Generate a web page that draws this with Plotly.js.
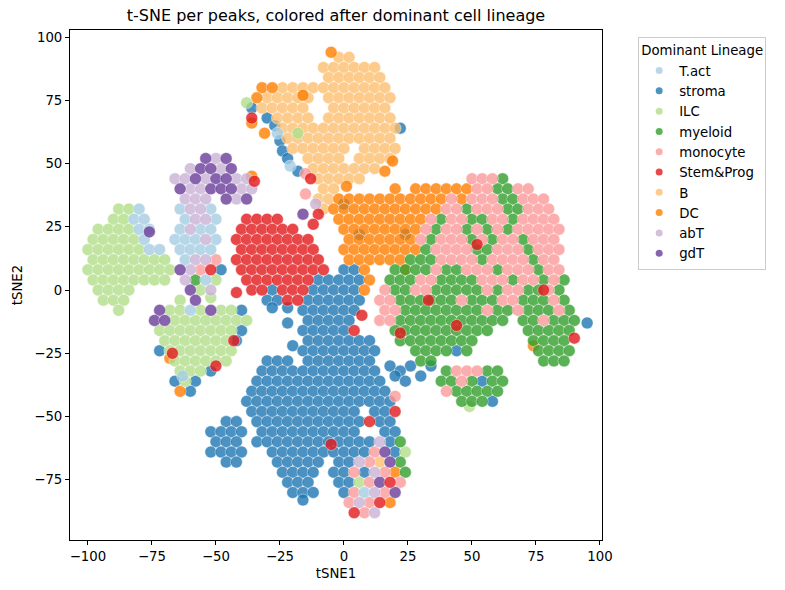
<!DOCTYPE html>
<html>
<head>
<meta charset="utf-8">
<script src="https://cdn.plot.ly/plotly-3.0.1.min.js"></script>
<style>
  html, body { margin: 0; padding: 0; background: #fff; }
  #chart { width: 785px; height: 590px; }
</style>
</head>
<body>
<div id="chart"></div>
<script>
// lineages in legend order, with the seaborn "Paired" colours
const lineages = ['T.act', 'stroma', 'ILC', 'myeloid', 'monocyte', 'Stem&Prog', 'B', 'DC', 'abT', 'gdT'];
const colors = ['#a6cee3', '#1f78b4', '#b2df8a', '#33a02c', '#fb9a99', '#e31a1c', '#fdbf6f', '#ff7f00', '#cab2d6', '#6a3d9a'];

// points, grouped per row: [tSNE2, [tSNE1 values]]
const tactRows = [
  [62, [-26]], [49, [-21]],
  [32, [-80, -64, -52]],
  [28, [-82, -78, -62, -50]],
  [24, [-80, -76, -64, -56, -52]],
  [20, [-78, -66, -62, -58, -50]],
  [16, [-76, -72, -64, -60, -56, -52]],
  [12, [-62]],
  [4, [-54]],
  [-8, [-60]],
  [-34, [-63]],
  [-80, [8]]
];

const stromaRows = [
  [72, [-36]], [68, [-30]], [65, [-27]], [64, [22]], [59, [-25]], [55, [-24]], [52, [-22]], [47, [-18]],
  [34, [0]], [22, [6, 24]],
  [8, [-48, 0, 4]],
  [4, [-10, -6, -2, 2, 6]],
  [0, [-28, -12, -8, -4, 0, 4]],
  [-4, [-30, -26, -14, -10, -6, -2, 2, 6]],
  [-7, [-28, -22]],
  [-8, [-40, -16, -12, -8, -4, 0, 4]],
  [-12, [-14, -10, -6, -2, 2]],
  [-13, [-22, 95]],
  [-16, [-40, -16, -12, -8, -4, 0]],
  [-20, [-42, -14, -10, -6, -2, 2, 6, 10]],
  [-22, [-20]],
  [-24, [-72, -16, -12, -8, -4, 0, 4, 8, 12, 44]],
  [-28, [-30, -26, -22, -14, -10, -6, -2, 2, 6, 10]],
  [-30, [18, 26, 34]],
  [-32, [-52, -32, -28, -24, -20, -16, -12, -8, -4, 0, 4, 8, 12, 22]],
  [-34, [20, 30]],
  [-36, [-66, -58, -34, -30, -26, -22, -18, -14, -10, -6, -2, 2, 6, 10, 14, 24, 54]],
  [-40, [-60, -36, -32, -28, -24, -20, -16, -12, -8, -4, 0, 4, 8, 12, 16]],
  [-44, [-38, -34, -30, -26, -22, -18, -14, -10, -6, -2, 2, 6, 10, 14, 18, 58]],
  [-48, [-36, -32, -28, -24, -20, -16, -12, -8, -4, 0, 4, 12, 16]],
  [-52, [-46, -42, -34, -30, -26, -22, -18, -14, -10, -6, -2, 2, 6, 14, 18]],
  [-56, [-52, -48, -44, -40, -32, -28, -24, -20, -16, -12, -8, -4, 0, 4, 16, 20]],
  [-60, [-50, -46, -42, -34, -30, -26, -22, -18, -14, -10, -6, -2, 2, 6, 10, 18]],
  [-64, [-52, -48, -44, -40, -28, -24, -20, -16, -12, -8, -4, 0, 4, 8, 20]],
  [-68, [-46, -42, -26, -22, -18, -14, -10, -2, 2]],
  [-72, [-24, -20, -16, -12, -4, 0, 8]],
  [-76, [-22, -18, -14, -2, 2]],
  [-80, [-20, -16, -12, 0]],
  [-83, [-16]]
];

const ilcRows = [
  [74, [-38]], [62, [-18]],
  [32, [-88, -84]],
  [28, [-90, -86]],
  [24, [-96, -92, -88, -84]],
  [20, [-98, -94, -90, -86, -82]],
  [16, [-100, -96, -92, -88, -84, -80]],
  [12, [-98, -94, -90, -86, -82, -78, -74, -70]],
  [8, [-100, -96, -92, -88, -84, -80, -76, -72, -68]],
  [4, [-98, -94, -90, -86, -82, -78, -74, -70, -50]],
  [0, [-96, -92, -88, -84, -56]],
  [-3, [-52]],
  [-4, [-94, -90, -86, -64]],
  [-8, [-88, -68, -64, -56, -48, -44]],
  [-12, [-66, -62, -58, -54, -50, -46, -42, -38]],
  [-16, [-72, -68, -64, -60, -56, -52, -48, -44]],
  [-20, [-70, -66, -62, -58, -54, -50, -46]],
  [-24, [-68, -64, -60, -56, -52, -48, -44]],
  [-28, [-66, -62, -58, -54, -50, -46]],
  [-32, [-64, -60, -56]],
  [-36, [-62]],
  [-46, [49]],
  [-64, [24]],
  [-76, [6]]
];

const myeloidRows = [
  [44, [62]],
  [40, [60, 64]],
  [36, [62, 66]],
  [32, [48, 64, 68]],
  [28, [38, 50, 54, 66]],
  [24, [36, 48, 56, 64]],
  [20, [34, 50, 58, 70]],
  [16, [32, 52, 56, 72]],
  [12, [26, 30, 34, 54, 74]],
  [8, [20, 24, 28, 32, 40, 44, 60, 76]],
  [4, [-58, 18, 22, 26, 38, 42, 46, 50, 66, 78, 86]],
  [0, [20, 24, 36, 40, 44, 48, 52, 60, 72, 76, 84]],
  [-4, [22, 26, 30, 34, 38, 42, 50, 54, 58, 70, 74, 78, 86]],
  [-8, [24, 28, 32, 36, 40, 44, 48, 52, 60, 64, 72, 76, 80, 88]],
  [-12, [22, 26, 30, 34, 38, 42, 46, 50, 54, 58, 62, 70, 74, 82, 86, 90]],
  [-16, [20, 24, 28, 32, 36, 40, 44, 48, 52, 56, 72, 76, 80, 84, 88]],
  [-20, [22, 26, 30, 34, 38, 42, 46, 50, 74, 78, 82, 86]],
  [-24, [28, 32, 36, 40, 48, 76, 80, 84, 88]],
  [-28, [30, 34, 78, 82, 86]],
  [-32, [40, 56, 60]],
  [-36, [38, 42, 50, 58, 62]],
  [-40, [44, 48, 52, 56, 60]],
  [-44, [46, 50, 54]],
  [-60, [22]],
  [-68, [22]],
  [-72, [24]]
];

const monocyteRows = [
  [46, [-15]],
  [44, [50, 54, 58]],
  [40, [52, 56, 68, 72]],
  [38, [-15]],
  [36, [42, 50, 54, 58, 70, 74, 78]],
  [32, [40, 44, 52, 56, 60, 72, 76, 80]],
  [28, [34, 42, 46, 58, 62, 70, 74, 78, 82]],
  [24, [32, 40, 44, 52, 60, 68, 72, 76, 80, 84]],
  [20, [30, 38, 42, 46, 54, 62, 66, 74, 78, 82]],
  [16, [36, 40, 44, 48, 60, 64, 68, 76, 80, 84]],
  [12, [-50, 38, 42, 46, 50, 58, 62, 66, 70, 78, 82]],
  [8, [-56, 36, 48, 52, 56, 64, 68, 72, 80, 84]],
  [4, [30, 34, 54, 58, 62, 70, 74, 82]],
  [0, [16, 28, 32, 56, 64, 68, 80]],
  [-4, [14, 18, 46, 62, 66, 82]],
  [-8, [16, 20, 56, 68, 84]],
  [-12, [14, 18, 78]],
  [-32, [44, 48, 52]],
  [-36, [46]],
  [-40, [40]],
  [-42, [20]],
  [-64, [12]],
  [-68, [10]],
  [-72, [4, 16]],
  [-76, [10, 22]],
  [-80, [4, 16]],
  [-84, [2, 10]],
  [-88, [8]]
];

const stemRows = [
  [68, [-36]], [44, [-13]], [43, [-35]], [30, [-10]], [26, [-12]],
  [28, [-38, -34, -30, -26]],
  [24, [-40, -36, -32, -28, -24, -20]],
  [20, [-42, -38, -34, -30, -26, -22, -18, -14]],
  [18, [52]],
  [16, [-40, -36, -32, -28, -24, -20, -16, -12]],
  [12, [-42, -38, -34, -30, -26, -22, -18, -14, -10]],
  [8, [-52, -40, -36, -32, -28, -24, -20, -16, -12, -8]],
  [4, [-38, -34, -30, -26, -22, -18, -14]],
  [0, [-36, -32, -24, -20, -16, 78]],
  [-1, [-42]],
  [-4, [-22, -18, 33]],
  [-10, [7]],
  [-14, [44]],
  [-16, [4]],
  [-17, [22]],
  [-19, [90]],
  [-20, [-43]],
  [-25, [-67]],
  [-30, [-50]],
  [-48, [20]],
  [-52, [10]],
  [-61, [-5]],
  [-76, [18]],
  [-84, [14]],
  [-88, [4]]
];

const bRows = [
  [92, [-2, 2]],
  [88, [-8, -4, 0, 4, 8, 12]],
  [84, [-6, -2, 2, 6, 10, 14]],
  [80, [-24, -20, -16, -12, -8, -4, 0, 4, 8, 12, 16]],
  [76, [-30, -26, -22, -18, -14, -6, -2, 2, 6, 10, 14, 18]],
  [72, [-32, -28, -24, -20, -16, -4, 0, 4, 8, 12, 16]],
  [68, [-26, -22, -18, -14, -6, -2, 2, 6, 10, 14, 18]],
  [64, [-24, -20, -16, -12, -8, -4, 0, 4, 8, 12, 16, 20]],
  [60, [-22, -18, -14, -10, -6, -2, 2, 6, 10, 14, 18]],
  [56, [-20, -16, -12, -8, -4, 0, 8, 12, 16, 20]],
  [52, [-14, -10, -6, -2, 6, 10, 14, 18]],
  [48, [-12, -8, -4, 0, 4, 8, 12]],
  [44, [-10, -6, -2, 2, 6]],
  [40, [-8, -4]],
  [36, [-10, -6]],
  [32, [-8]],
  [-68, [14]]
];

const dcRows = [
  [94, [-5]],
  [80, [-32, -28]],
  [77, [-16]],
  [76, [-34]],
  [66, [-36]],
  [62, [-31]],
  [51, [19]],
  [47, [16]],
  [45, [-36]],
  [41, [1]],
  [40, [20, 28, 32, 36, 40, 44, 48]],
  [36, [-2, 2, 6, 10, 14, 18, 22, 26, 30, 34, 38, 46]],
  [32, [-4, 0, 4, 8, 12, 16, 20, 24, 28, 32, 36]],
  [28, [-2, 2, 6, 10, 14, 18, 22, 26, 30]],
  [24, [0, 4, 8, 12, 16, 20, 24, 28]],
  [20, [2, 6, 10, 14, 18, 22, 26]],
  [16, [0, 4, 8, 12, 16, 20, 24, 28]],
  [12, [2, 6, 10, 14, 18, 22]],
  [8, [8, 24]],
  [4, [10]],
  [0, [8]],
  [-22, [74]],
  [-27, [-68]],
  [-40, [-64]],
  [-72, [20]],
  [-84, [18]]
];

const abtRows = [
  [52, [-50]],
  [48, [-60, -48]],
  [44, [-66, -62, -54, -42, -38]],
  [40, [-60, -56, -40, -36]],
  [36, [-62, -58, -54, -42]],
  [34, [-11]],
  [32, [-60, -56]],
  [28, [-58, -54]],
  [24, [-60]],
  [20, [-54]],
  [12, [-58, -54]],
  [8, [-60]],
  [4, [-62]],
  [0, [-52]],
  [-60, [14]],
  [-68, [6]],
  [-72, [12]],
  [-80, [12]],
  [-84, [6]],
  [-88, [12]]
];

const gdtRows = [
  [52, [-54, -46]],
  [48, [-56, -52, -44]],
  [44, [-58, -50, -46]],
  [40, [-64, -52, -48, -44]],
  [36, [-46, -38]],
  [30, [-16]],
  [23, [-76]],
  [8, [-64]],
  [0, [-60]],
  [-4, [-58]],
  [-8, [-72, -52]],
  [-12, [-74, -70]],
  [-64, [16]],
  [-68, [18]],
  [-76, [14]],
  [-80, [20]]
];

const xTicks = [-100, -75, -50, -25, 0, 25, 50, 75, 100];
const yTicks = [-75, -50, -25, 0, 25, 50, 75, 100];

const rowsByLineage = {
  'T.act': tactRows, 'stroma': stromaRows, 'ILC': ilcRows, 'myeloid': myeloidRows,
  'monocyte': monocyteRows, 'Stem&Prog': stemRows, 'B': bRows, 'DC': dcRows,
  'abT': abtRows, 'gdT': gdtRows
};

// order in which the groups are painted (small groups on top)
const drawOrder = ['stroma', 'B', 'DC', 'ILC', 'myeloid', 'monocyte', 'T.act', 'abT', 'gdT', 'Stem&Prog'];

function flatten(rows) {
  const x = [], y = [];
  rows.forEach(([yy, xs]) => xs.forEach(v => { x.push(v); y.push(yy); }));
  return {x, y};
}

const font = 'DejaVu Sans, Arial, sans-serif';
let data = [];

drawOrder.forEach(name => {
  let pts = flatten(rowsByLineage[name]);
  data.push({
    type: 'scatter',
    mode: 'markers',
    x: pts.x,
    y: pts.y,
    name: name,
    showlegend: false,
    hoverinfo: 'skip',
    marker: {
      size: 12,
      color: colors[lineages.indexOf(name)],
      opacity: 0.8,
      line: {color: 'white', width: 0.5}
    }
  });
});

// legend entries with small dots like the original
lineages.forEach((name, i) => {
  data.push({
    type: 'scatter',
    mode: 'markers',
    x: [null],
    y: [null],
    name: name,
    legendrank: i + 1,
    marker: {size: 7, color: colors[i], opacity: 0.8}
  });
});

let axisCommon = {
  showline: true,
  mirror: true,
  linecolor: 'black',
  linewidth: 1,
  ticks: 'outside',
  ticklen: 4,
  tickwidth: 1,
  tickcolor: 'black',
  showgrid: false,
  zeroline: false,
  tickfont: {family: font, size: 13.3, color: 'black'}
};

let layout = {
  width: 785,
  height: 590,
  paper_bgcolor: 'white',
  plot_bgcolor: 'white',
  margin: {l: 70, r: 183, t: 30, b: 50, pad: 0},
  title: {
    text: 't-SNE per peaks, colored after dominant cell lineage',
    font: {family: font, size: 16, color: 'black'},
    x: 0.5, xref: 'paper', xanchor: 'center',
    y: 1 - 15 / 590, yref: 'container', yanchor: 'middle'
  },
  xaxis: Object.assign({}, axisCommon, {
    range: [-107, 100.8],
    tickvals: xTicks,
    title: {text: 'tSNE1', font: {family: font, size: 13.3, color: 'black'}, standoff: 5}
  }),
  yaxis: Object.assign({}, axisCommon, {
    range: [-98.8, 102.8],
    tickvals: yTicks,
    title: {text: 'tSNE2', font: {family: font, size: 13.3, color: 'black'}, standoff: 8}
  }),
  legend: {
    x: 1.068, xanchor: 'left',
    y: 0.986, yanchor: 'top',
    bordercolor: '#cccccc',
    borderwidth: 1,
    bgcolor: 'white',
    font: {family: font, size: 13.3, color: 'black'},
    title: {text: 'Dominant Lineage', font: {family: font, size: 13.3, color: 'black'}},
    traceorder: 'normal'
  },
  showlegend: true
};

Plotly.newPlot('chart', data, layout, {displayModeBar: false, staticPlot: true});
</script>
</body>
</html>
